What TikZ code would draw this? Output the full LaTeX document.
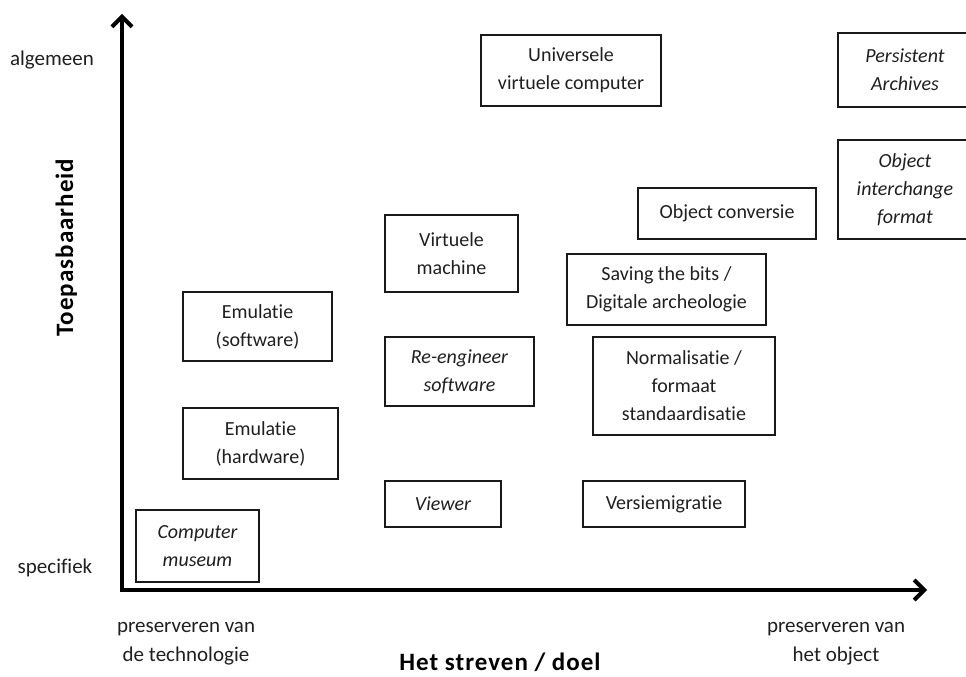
\documentclass[tikz,border=0pt]{standalone}
\usepackage{fontspec}
\setmainfont{Carlito}[Ligatures=NoCommon]
\usepackage[rgb]{xcolor}
\definecolor{boxBorder}{rgb}{0.1,0.1,0.1}
\definecolor{boxText}{rgb}{0.12,0.12,0.12}
\usepackage{tikz}
\usetikzlibrary{arrows.meta}
\tikzstyle{box} = [draw=boxBorder, line width=1.3bp, text=boxText, align=center,
        inner sep=0pt, font={\fontsize{20bp}{28bp}\selectfont}]
\tikzstyle{ibox} = [box, font={\fontsize{20bp}{28bp}\selectfont\itshape}]
\tikzstyle{pole} = [text=boxText, align=center, inner sep=0pt,
        font={\fontsize{21bp}{29bp}\selectfont}]
\tikzstyle{axistitle} = [text=black, inner sep=0pt, anchor=base,
        font={\fontsize{25bp}{30bp}\selectfont\bfseries\addfontfeature{LetterSpace=4}}]
\tikzstyle{axis} = [line width=4bp, line join=miter,
        {Straight Barb[length=10bp,width=20bp]}-{Straight Barb[length=10bp,width=20bp]}]

\begin{document}
\begin{tikzpicture}[x=1bp, y=-1bp]
    \useasboundingbox (0,0) rectangle (966,677);
    \clip (0,0) rectangle (966,677);
    % axes
    \coordinate (ytop) at (122,14);
    \coordinate (origin) at (122,590);
    \coordinate (xend) at (927,590);
    \draw[axis] (ytop) -- (origin) -- (xend);
    % axis labels
    \node[pole] (general) at (52,60) {algemeen};
    \node[pole] (specific) at (55,568) {specifiek};
    \node[pole] (tech) at (186,644) {preserveren van\\de technologie};
    \node[pole] (object) at (836,644) {preserveren van\\het object};
    \node[axistitle, rotate=90] (ytitle) at (73,247.5) {Toepasbaarheid};
    \node[axistitle] (xtitle) at (500,670.5) {Het streven / doel};
    % boxes
    \node[box, minimum width=180bp, minimum height=71bp] (uvc) at (571,70.5) {Universele\\virtuele computer};
    \node[ibox, minimum width=134bp, minimum height=74bp] (archives) at (905,70) {Persistent\\Archives};
    \node[ibox, minimum width=134bp, minimum height=99bp] (interchange) at (905,189.5) {Object\\interchange\\format};
    \node[box, minimum width=178bp, minimum height=51bp] (conversion) at (727,213.5) {Object conversie};
    \node[box, minimum width=133bp, minimum height=77bp] (vm) at (451.5,253.5) {Virtuele\\machine};
    \node[box, minimum width=199bp, minimum height=71bp] (bits) at (666.5,289.5) {Saving the bits /\\Digitale archeologie};
    \node[box, minimum width=149bp, minimum height=69bp] (emusw) at (257.5,326.5) {Emulatie\\(software)};
    \node[ibox, minimum width=149bp, minimum height=69bp] (reeng) at (459.5,371.5) {Re-engineer\\software};
    \node[box, minimum width=182bp, minimum height=98bp] (norm) at (684,386) {Normalisatie /\\formaat\\standaardisatie};
    \node[box, minimum width=155bp, minimum height=71bp] (emuhw) at (260.5,443.5) {Emulatie\\(hardware)};
    \node[ibox, minimum width=116bp, minimum height=46bp] (viewer) at (443,504) {Viewer};
    \node[box, minimum width=162bp, minimum height=46bp] (migration) at (664,504) {Versiemigratie};
    \node[ibox, minimum width=123bp, minimum height=72bp] (museum) at (197.5,546) {Computer\\museum};
\end{tikzpicture}
\end{document}
